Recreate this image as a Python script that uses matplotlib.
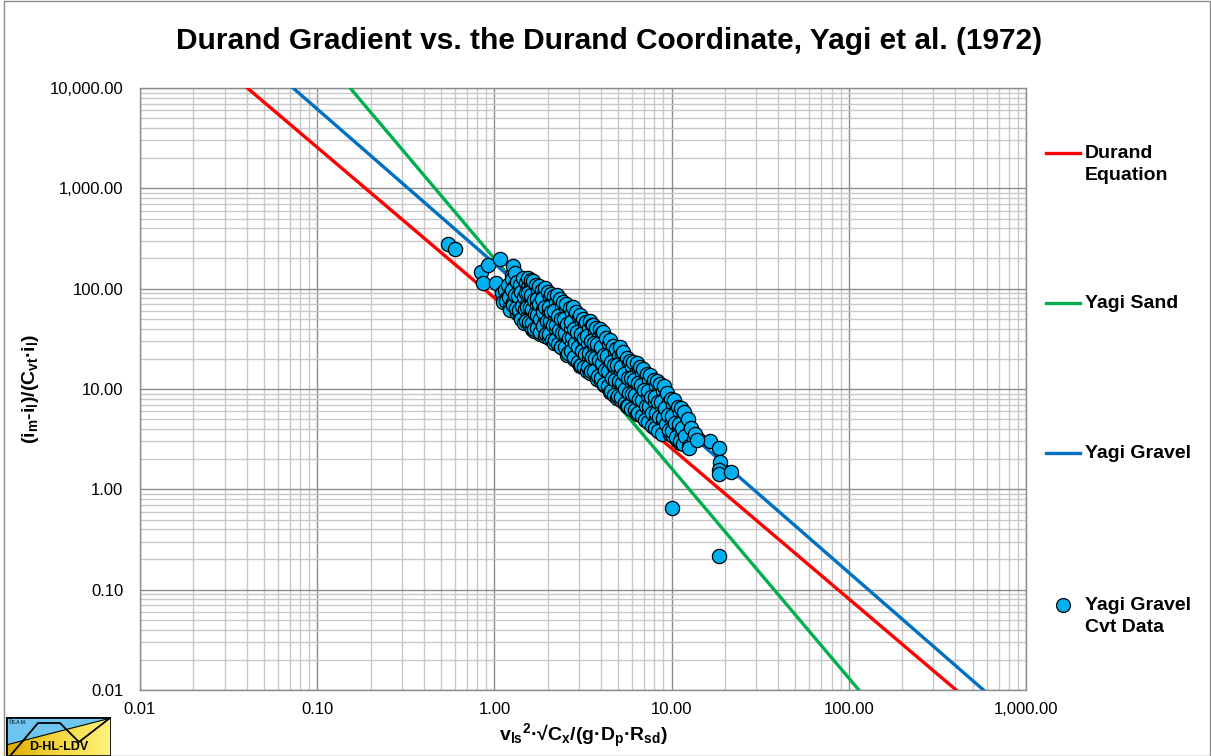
import numpy as np
import matplotlib
matplotlib.use("Agg")
import matplotlib.pyplot as plt
from matplotlib.ticker import FuncFormatter, LogLocator, NullFormatter
from matplotlib.lines import Line2D
from matplotlib.patches import Rectangle, Polygon
from matplotlib.colors import LinearSegmentedColormap

plt.rcParams['font.family'] = ['Liberation Sans', 'DejaVu Sans']
plt.rcParams['mathtext.fontset'] = 'custom'
plt.rcParams['mathtext.rm'] = 'Liberation Sans:bold'
plt.rcParams['mathtext.it'] = 'Liberation Sans:bold'
plt.rcParams['mathtext.bf'] = 'Liberation Sans:bold'

# ---- data ----
title = "Durand Gradient vs. the Durand Coordinate, Yagi et al. (1972)"
line_names = ["Durand\nEquation", "Yagi Sand", "Yagi Gravel"]
line_coef = [81.0, 199.0, 178.0]
line_exp = [-1.5, -2.09, -1.54]
line_colors = ["#ff0000", "#00b050", "#0070c0"]
scatter_name = "Yagi Gravel\nCvt Data"

x_ticks = [0.01, 0.1, 1, 10, 100, 1000]
y_ticks = [0.01, 0.1, 1, 10, 100, 1000, 10000]

# isolated points
extra_x = [0.547, 0.600, 0.839, 0.86, 0.92, 1.02, 1.08, 1.11, 1.26, 1.28,
           14.1, 16.5, 18.6, 18.8, 18.4, 18.4, 21.7, 10.05, 18.4]
extra_y = [278, 248, 146, 114, 172, 114, 197, 90, 137, 168,
           3.17, 3.0, 2.6, 1.87, 1.55, 1.41, 1.50, 0.65, 0.216]

# dense band, grouped in narrow x strips (x and y per point)
band_x = [
    [1.15, 1.18, 1.12],
    [1.20, 1.24, 1.16, 1.22],
    [1.25, 1.29, 1.21, 1.27, 1.23],
    [1.30, 1.34, 1.26, 1.33, 1.28, 1.35],
    [1.35, 1.39, 1.31, 1.38, 1.33, 1.40],
    [1.40, 1.44, 1.36, 1.43, 1.38, 1.45],
    [1.45, 1.49, 1.41, 1.48, 1.43, 1.50, 1.41],
    [1.50, 1.55, 1.46, 1.53, 1.48, 1.55, 1.46],
    [1.55, 1.60, 1.50, 1.58, 1.53, 1.60, 1.51, 1.57],
    [1.60, 1.65, 1.55, 1.63, 1.58, 1.66, 1.56, 1.62],
    [1.66, 1.71, 1.61, 1.69, 1.64, 1.72, 1.62, 1.68],
    [1.72, 1.77, 1.67, 1.75, 1.69, 1.78, 1.68],
    [1.78, 1.83, 1.73, 1.82, 1.75, 1.84, 1.74, 1.80],
    [1.85, 1.91, 1.79, 1.89, 1.82, 1.91, 1.80],
    [1.92, 1.98, 1.86, 1.96, 1.89, 1.99, 1.87, 1.94],
    [2.00, 2.06, 1.94, 2.04, 1.97, 2.07, 1.95, 2.02],
    [2.08, 2.14, 2.02, 2.12, 2.05, 2.15, 2.03],
    [2.16, 2.22, 2.10, 2.20, 2.13, 2.24, 2.11, 2.18],
    [2.25, 2.32, 2.18, 2.30, 2.22, 2.33, 2.19],
    [2.35, 2.42, 2.28, 2.40, 2.31, 2.43, 2.29, 2.37],
    [2.45, 2.52, 2.38, 2.50, 2.41, 2.54, 2.39],
    [2.55, 2.63, 2.47, 2.60, 2.51, 2.64, 2.49, 2.58],
    [2.66, 2.74, 2.58, 2.71, 2.62, 2.75, 2.59],
    [2.78, 2.86, 2.70, 2.84, 2.74, 2.88, 2.71, 2.81],
    [2.90, 2.99, 2.81, 2.96, 2.86, 3.00, 2.83],
    [3.03, 3.12, 2.94, 3.09, 2.98, 3.14, 2.95, 3.06],
    [3.16, 3.25, 3.07, 3.22, 3.11, 3.27, 3.08],
    [3.30, 3.40, 3.20, 3.37, 3.25, 3.42, 3.22, 3.33],
    [3.45, 3.55, 3.35, 3.52, 3.40, 3.57, 3.36, 3.48],
    [3.60, 3.71, 3.49, 3.67, 3.55, 3.73, 3.51],
    [3.76, 3.87, 3.65, 3.84, 3.70, 3.89, 3.67, 3.80],
    [3.93, 4.05, 3.81, 4.01, 3.87, 4.07, 3.83, 3.97],
    [4.10, 4.22, 3.98, 4.18, 4.04, 4.24, 4.00, 4.14],
    [4.28, 4.41, 4.15, 4.37, 4.22, 4.43, 4.17],
    [4.47, 4.60, 4.34, 4.56, 4.40, 4.63, 4.36, 4.51],
    [4.67, 4.81, 4.53, 4.76, 4.60, 4.83, 4.55],
    [4.88, 5.03, 4.73, 4.98, 4.81, 5.05, 4.76, 4.93],
    [5.10, 5.25, 4.95, 5.20, 5.02, 5.28, 4.97, 5.15],
    [5.33, 5.49, 5.17, 5.44, 5.25, 5.52, 5.20],
    [5.57, 5.74, 5.40, 5.68, 5.49, 5.76, 5.43, 5.63],
    [5.82, 5.99, 5.65, 5.94, 5.73, 6.02, 5.67],
    [6.08, 6.26, 5.90, 6.20, 5.99, 6.29, 5.93],
    [6.35, 6.54, 6.16, 6.48, 6.25, 6.57, 6.19, 6.41],
    [6.64, 6.84, 6.44, 6.77, 6.54, 6.87, 6.47],
    [6.94, 7.15, 6.73, 7.08, 6.84, 7.18, 6.77],
    [7.25, 7.47, 7.03, 7.40, 7.14, 7.50, 7.07],
    [7.58, 7.81, 7.35, 7.73, 7.47, 7.85, 7.39],
    [7.92, 8.16, 7.68, 8.08, 7.80, 8.20, 7.72],
    [8.28, 8.53, 8.03, 8.45, 8.16, 8.57, 8.07],
    [8.65, 8.91, 8.39, 8.82, 8.52, 8.95, 8.43],
    [9.04, 9.31, 8.77, 9.22, 8.90, 9.36, 8.81],
    [9.45, 9.73, 9.17, 9.64, 9.31, 9.78],
    [9.88, 10.2, 9.58, 10.1, 9.73, 10.2],
    [10.3, 10.6, 10.0, 10.5, 10.1, 10.7],
    [10.8, 11.1, 10.5, 11.0, 10.6, 11.2],
    [11.3, 11.6, 11.0, 11.5, 11.1],
    [11.8, 12.2, 11.4, 12.0, 11.6],
    [12.3, 12.7, 11.9, 12.5],
    [12.9, 13.3, 12.5],
    [13.5, 13.9],
]
band_y = [
    [96, 80, 74],
    [108, 93, 76, 67],
    [124, 104, 83, 73, 61],
    [142, 112, 98, 78, 69, 57],
    [117, 103, 86, 72, 64, 54],
    [109, 92, 84, 67, 61, 51],
    [127, 101, 93, 76, 67, 54, 50],
    [115, 104, 83, 71, 63, 55, 45],
    [128, 113, 91, 83, 66, 60, 48, 44],
    [122, 101, 90, 73, 66, 52, 47, 40],
    [120, 95, 86, 70, 62, 49, 45, 38],
    [108, 97, 77, 69, 56, 50, 40],
    [106, 87, 79, 62, 55, 44, 41, 35],
    [97, 88, 70, 63, 50, 45, 37],
    [102, 85, 78, 64, 58, 46, 42, 34],
    [93, 82, 66, 60, 48, 43, 35, 32],
    [88, 73, 66, 53, 48, 38, 35],
    [84, 74, 59, 54, 43, 39, 31, 29],
    [86, 68, 60, 47, 43, 34, 31],
    [78, 67, 53, 48, 39, 35, 28, 26],
    [73, 64, 50, 45, 36, 33, 26],
    [71, 56, 50, 40, 36, 29, 26, 22],
    [64, 57, 44, 40, 32, 29, 23],
    [66, 54, 47, 37, 33, 26, 24, 20],
    [59, 52, 40, 36, 29, 26, 21],
    [55, 47, 37, 33, 26, 24, 18.5, 17],
    [50, 44, 35, 31, 24, 21.5, 17.5],
    [47, 41, 32, 29, 22.5, 20.5, 16.5, 15],
    [48, 43, 34, 30, 23, 21, 16.5, 14.5],
    [43, 38, 30, 27, 21, 18.5, 15],
    [41, 33, 29, 23, 20.5, 16.5, 15, 12.5],
    [40, 36, 28, 25, 19.5, 17.5, 13.5, 12],
    [37, 29, 26, 20, 18, 14.5, 13, 11],
    [32, 28, 22, 19.5, 15.5, 14, 11.2],
    [31, 24, 21.5, 17, 15, 12, 10.8, 9.4],
    [27, 23.5, 18.5, 16.5, 13, 11.8, 9.6],
    [25, 21.5, 17.5, 15.5, 12.2, 10.8, 8.8, 8.1],
    [26, 22.5, 17.5, 15.2, 12, 10.7, 8.6, 7.7],
    [23.5, 18.5, 16.5, 13, 11.6, 9.3, 8.3],
    [20.5, 18, 14, 12.5, 10, 9, 7.3, 6.8],
    [19, 16.5, 13, 11.6, 9.2, 8.2, 6.8],
    [18.5, 14.5, 12.8, 10.2, 9.0, 7.2, 6.3],
    [18, 15.8, 12.4, 11, 8.7, 7.7, 6.2, 5.6],
    [16.5, 14.3, 11.4, 10, 8.0, 7.0, 5.8],
    [15.8, 12.5, 11.0, 8.7, 7.7, 6.1, 5.4],
    [14.2, 12.3, 9.7, 8.6, 6.8, 6.0, 4.9],
    [13.8, 11.0, 9.6, 7.6, 6.7, 5.3, 4.7],
    [12.2, 10.7, 8.4, 7.4, 5.8, 5.2, 4.3],
    [11.9, 9.6, 8.3, 6.6, 5.8, 4.7, 4.1],
    [11.2, 9.6, 7.5, 6.6, 5.2, 4.6, 3.8],
    [10.6, 8.5, 7.4, 5.8, 5.1, 4.1, 3.6],
    [9.2, 7.4, 6.5, 5.1, 4.5, 3.6],
    [8.0, 7.0, 5.5, 4.9, 3.9, 3.4],
    [7.7, 6.1, 5.4, 4.3, 3.8, 3.1],
    [6.6, 5.8, 4.6, 4.1, 3.3, 2.9],
    [6.4, 5.1, 4.5, 3.5, 3.0],
    [5.9, 4.7, 4.1, 3.2, 2.8],
    [5.0, 3.9, 3.4, 2.7],
    [4.1, 3.2, 2.6],
    [3.6, 3.1],
]

# ---- figure ----
W, H = 1211, 756
fig = plt.figure(figsize=(W / 100, H / 100), dpi=100)
ax = fig.add_axes([140 / W, (H - 690) / H, 886 / W, 602 / H])

ax.set_xscale('log')
ax.set_yscale('log')

xs = np.logspace(-2, 3, 400)
for c, e, col in zip(line_coef, line_exp, line_colors):
    ax.plot(xs, c * xs ** e, color=col, lw=2.4, zorder=3, solid_capstyle='butt')

sx = list(extra_x)
sy = list(extra_y)
for xl, yl in zip(band_x, band_y):
    sx.extend(xl)
    sy.extend(yl)
ax.scatter(sx, sy, s=105, facecolor='#00b0f0', edgecolor='black', linewidths=0.9, zorder=4)

# grid
ax.xaxis.set_minor_locator(LogLocator(base=10, subs=np.arange(2, 10), numticks=20))
ax.yaxis.set_minor_locator(LogLocator(base=10, subs=np.arange(2, 10), numticks=20))
ax.xaxis.set_minor_formatter(NullFormatter())
ax.yaxis.set_minor_formatter(NullFormatter())
ax.grid(which='major', color='#8c8c8c', lw=1.0, zorder=0)
ax.grid(which='minor', color='#c8c8c8', lw=1.0, zorder=0)
ax.set_axisbelow(True)

fmt = FuncFormatter(lambda v, p: f"{v:,.2f}")
ax.set_xticks(x_ticks)
ax.set_yticks(y_ticks)
ax.xaxis.set_major_formatter(fmt)
ax.yaxis.set_major_formatter(fmt)
ax.set_xlim(0.01, 1000)
ax.set_ylim(0.01, 10000)
ax.tick_params(which='both', length=0)
ax.tick_params(axis='x', labelsize=12, pad=9)
ax.tick_params(axis='y', labelsize=12, pad=12)
for s in ax.spines.values():
    s.set_color('#8c8c8c')
    s.set_linewidth(1.0)

ax.set_xlabel('v$_{ls}$$^{2}$·√C$_{x}$/(g·D$_{p}$·R$_{sd}$)', fontsize=14, fontweight='bold', labelpad=3)
ax.set_ylabel('(i$_{m}$-i$_{l}$)/(C$_{vt}$·i$_{l}$)', fontsize=14, fontweight='bold', labelpad=6)
fig.text(0.503, 1 - 41 / H, title, ha='center', va='center', fontsize=21.5, fontweight='bold')

# legend (manual, right side)
def fy(py):
    return 1 - py / H

leg_rows = [153, 303, 453, 605]
for i, (name, col) in enumerate(zip(line_names, line_colors)):
    y = fy(leg_rows[i])
    fig.add_artist(Line2D([1046 / W, 1080 / W], [y, y], color=col, lw=2.4))
    for k, part in enumerate(name.split("\n")):
        fig.text(1085 / W, fy(leg_rows[i] + 23 * k), part, ha='left', va='center',
                 fontsize=14, fontweight='bold')
y = fy(leg_rows[3])
fig.add_artist(Line2D([1063 / W], [y], marker='o', ms=10, markerfacecolor='#00b0f0',
                      markeredgecolor='black', markeredgewidth=0.9, ls='none'))
for k, part in enumerate(scatter_name.split("\n")):
    fig.text(1085 / W, fy(leg_rows[3] + 23 * k), part, ha='left', va='center',
             fontsize=14, fontweight='bold')

# chart border
fig.add_artist(Rectangle((4 / W, 0), 1 - 5 / W, 1 - 1 / H, transform=fig.transFigure,
                         fill=False, edgecolor='#8c8c8c', lw=1.0))

# logo
lax = fig.add_axes([6 / W, 0, 105 / W, 39 / H])
lax.set_xlim(0, 1)
lax.set_ylim(0, 1)
lax.axis('off')
grad = np.linspace(0, 1, 64).reshape(1, -1)
ycmap = LinearSegmentedColormap.from_list('yl', ['#dcaa00', '#f4d840', '#fff27a'])
im = lax.imshow(grad, extent=(0, 1, 0, 1), aspect='auto', cmap=ycmap, zorder=1)
ypoly = Polygon([(0, 0), (1, 0), (1, 0.974), (0, 0.282)], closed=True, transform=lax.transData,
                facecolor='none', edgecolor='none')
lax.add_patch(ypoly)
im.set_clip_path(ypoly)
lax.add_patch(Polygon([(0, 0.282), (1, 0.974), (1, 1), (0, 1)], closed=True,
                      facecolor='#6ec6f0', edgecolor='none', zorder=1))
lax.plot([0, 1], [0.282, 0.974], color='black', lw=0.8, zorder=2)
lax.plot([0.038, 0.305, 0.514, 0.695, 0.99], [0, 0.846, 0.846, 0.359, 0.974], color='black', lw=1.3, zorder=2)
lax.add_patch(Rectangle((0, 0), 1, 1, fill=False, edgecolor='black', lw=2.0, zorder=3))
lax.text(0.03, 0.87, '©S.A.M.', fontsize=3.5, ha='left', va='center', zorder=4)
lax.text(0.5, 0.22, 'D-HL-LDV', fontsize=9, fontweight='bold', ha='center', va='center', zorder=4)

fig.savefig('out.png', dpi=100)
